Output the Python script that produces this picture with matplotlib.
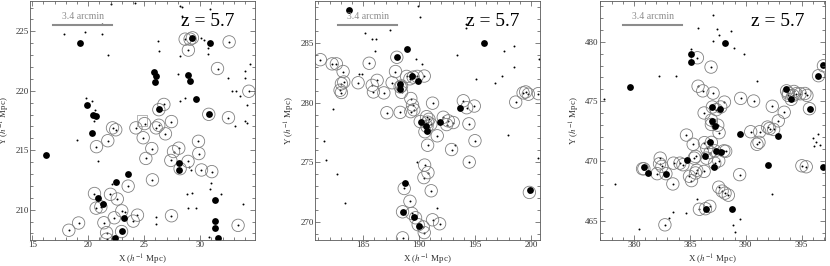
import matplotlib
matplotlib.use("Agg")
import matplotlib.pyplot as plt
from matplotlib.ticker import MultipleLocator

plt.rcParams['font.family'] = ['Liberation Serif', 'DejaVu Serif']
plt.rcParams['mathtext.fontset'] = 'stix'

# ---- panel 1 ----
p1_filled = [(16.25, 214.58), (19.26, 223.98), (19.85, 218.82), (20.39, 217.96), (20.71, 217.88),
             (20.33, 216.44), (20.86, 210.96), (21.31, 210.46), (22.5, 212.34), (23.54, 213.03),
             (23.24, 209.32), (23.04, 208.21), (22.38, 207.58), (25.86, 221.54), (26.1, 221.26),
             (25.98, 220.73), (28.9, 221.34), (29.08, 220.84), (29.67, 219.35), (26.34, 218.49),
             (29.26, 224.45), (30.92, 224.0), (30.77, 218.02), (28.15, 213.89), (28.15, 213.37),
             (31.31, 210.82), (31.34, 209.02), (31.37, 208.43), (31.55, 207.6)]
p1_rings = [(18.27, 208.27), (19.14, 208.88), (20.74, 215.3), (21.75, 215.8), (22.17, 216.88),
            (22.46, 216.72), (20.56, 211.36), (20.71, 210.13), (21.13, 210.24), (21.4, 208.9),
            (21.64, 208.07), (21.67, 207.52), (21.99, 211.29), (22.6, 210.9), (22.33, 209.32),
            (23.0, 209.9), (23.57, 211.98), (24.02, 209.04), (24.4, 209.54), (22.98, 208.16),
            (24.26, 216.88), (25.03, 217.24), (24.91, 216.05), (25.15, 214.31), (25.68, 215.14),
            (25.74, 212.51), (26.07, 216.88), (26.31, 218.41), (26.76, 218.85), (26.9, 216.38),
            (27.44, 217.41), (27.44, 209.49), (27.62, 214.89), (27.38, 214.14), (28.09, 215.17),
            (28.21, 213.45), (28.92, 214.06), (28.66, 224.34), (29.1, 224.34), (29.31, 224.45),
            (28.95, 223.42), (29.85, 215.75), (29.88, 214.72), (30.12, 213.34), (31.04, 213.2),
            (30.77, 218.02), (31.55, 221.87), (32.59, 224.11), (32.53, 217.74), (33.39, 208.68),
            (34.35, 219.96), (26.3, 217.1)]
p1_dots = [(17.83, 224.78), (19.67, 224.92), (21.25, 224.78), (21.19, 225.64), (21.76, 222.98),
           (19.79, 219.38), (20.33, 219.1), (20.65, 218.41), (20.51, 217.44), (18.96, 215.89),
           (20.86, 214.11), (22.02, 227.3), (24.14, 227.41), (28.18, 227.13), (28.42, 227.02),
           (28.36, 226.3), (30.92, 226.86), (26.22, 224.2), (26.28, 223.34), (28.21, 222.95),
           (30.09, 224.45), (30.33, 224.31), (30.68, 223.61), (30.74, 223.06), (28.01, 221.37),
           (28.63, 219.4), (28.24, 219.1), (32.53, 221.04), (32.86, 220.01), (33.18, 219.96),
           (33.6, 219.6), (34.05, 221.07), (33.99, 221.68), (34.46, 222.29), (34.2, 218.82),
           (34.02, 217.47), (33.13, 217.02), (34.2, 217.33), (28.99, 213.61), (29.14, 213.31),
           (29.23, 211.37), (28.84, 211.29), (29.61, 210.12), (28.93, 210.12), (30.95, 212.26),
           (30.86, 211.7), (31.9, 211.29), (33.81, 210.51), (26.07, 209.35), (26.1, 208.77),
           (30.77, 207.74), (23.33, 209.82), (22.11, 212.12)]

# ---- panel 2 ----
p2_filled = [(180.74, 267.8), (183.75, 287.73), (188.88, 284.5), (188.01, 283.79), (195.83, 284.97),
             (189.86, 281.77), (188.25, 281.17), (188.28, 281.53), (189.35, 282.19), (190.13, 278.38),
             (190.64, 278.02), (190.7, 277.64), (191.83, 278.38), (193.62, 279.57), (188.7, 273.28),
             (188.52, 270.86), (189.56, 270.39), (190.01, 269.64), (199.91, 272.7)]
p2_rings = [(181.18, 283.59), (182.23, 283.24), (182.61, 283.24), (183.21, 282.6), (183.06, 281.58),
            (183.27, 281.72), (183.06, 280.84), (182.94, 281.03), (184.55, 281.66), (185.54, 283.29),
            (185.81, 281.44), (185.92, 280.89), (186.25, 281.86), (186.85, 280.81), (187.12, 279.15),
            (187.59, 281.66), (188.31, 281.31), (188.31, 279.18), (187.89, 282.6), (188.01, 283.79),
            (188.43, 281.39), (188.43, 280.86), (188.88, 282.19), (189.18, 281.99), (189.47, 282.13),
            (189.83, 282.19), (190.46, 282.22), (189.26, 280.34), (189.41, 279.79), (189.26, 279.24),
            (189.53, 279.4), (190.1, 278.41), (190.67, 278.82), (190.76, 278.36), (190.7, 278.0),
            (190.52, 277.56), (191.05, 278.19), (190.88, 278.6), (191.2, 279.95), (191.62, 277.22),
            (192.16, 278.77), (192.61, 278.47), (192.46, 278.16), (193.05, 278.33), (190.76, 276.43),
            (190.49, 274.77), (190.79, 274.14), (190.43, 273.72), (191.08, 272.62), (192.9, 276.07),
            (193.95, 280.15), (194.25, 279.57), (194.93, 279.71), (194.45, 278.22), (194.99, 276.81),
            (194.48, 275.02), (188.67, 272.81), (189.18, 271.74), (188.52, 270.86), (189.35, 270.72),
            (189.68, 270.36), (189.92, 269.78), (190.37, 269.59), (190.46, 269.12), (188.52, 268.68),
            (191.2, 270.19), (191.83, 269.86), (198.63, 280.04), (199.29, 280.81), (199.52, 280.89),
            (199.76, 280.7), (200.66, 280.75), (199.85, 272.48)]
p2_dots = [(185.15, 285.83), (185.75, 285.36), (186.19, 285.3), (186.1, 284.28), (187.39, 286.05),
           (189.92, 288.06), (190.07, 287.18), (189.74, 283.65), (190.25, 283.24), (193.41, 284.01),
           (194.19, 286.54), (194.22, 286.27), (195.11, 281.99), (196.81, 281.66), (197.38, 282.19),
           (197.62, 284.34), (198.45, 284.75), (198.45, 283.01), (200.7, 283.65), (182.32, 279.43),
           (181.48, 276.76), (181.72, 275.18), (182.67, 274.05), (183.36, 271.6), (189.8, 274.99),
           (191.56, 271.16), (197.97, 277.25), (200.6, 275.38), (193.2, 276.48), (184.64, 282.41),
           (184.91, 282.41)]

# ---- panel 3 ----
p3_filled = [(379.61, 476.22), (385.09, 478.95), (385.12, 478.26), (388.18, 479.89), (380.89, 469.48),
             (381.28, 469.03), (382.83, 468.95), (384.79, 470.11), (386.34, 470.39), (386.82, 471.63),
             (386.96, 474.53), (387.68, 474.39), (386.96, 473.37), (387.26, 472.9), (387.38, 470.86),
             (387.83, 470.75), (387.14, 469.48), (389.46, 472.27), (392.02, 469.64), (392.92, 472.07),
             (393.6, 476.05), (394.05, 475.17), (395.74, 474.34), (396.43, 477.1), (396.93, 478.01),
             (396.93, 469.53), (388.78, 466.02), (386.43, 465.97)]
p3_rings = [(385.68, 478.65), (386.9, 477.87), (385.74, 476.27), (386.16, 475.88), (387.08, 475.69),
            (388.1, 474.94), (386.28, 474.03), (387.02, 474.53), (387.38, 474.31), (387.77, 474.53),
            (386.93, 473.43), (386.93, 473.07), (387.5, 473.01), (387.62, 472.38), (389.55, 475.25),
            (390.71, 475.03), (392.38, 474.59), (393.45, 474.09), (392.92, 473.37), (392.5, 472.65),
            (392.14, 472.73), (391.96, 472.85), (391.25, 472.46), (390.45, 472.46), (391.01, 471.41),
            (391.19, 471.57), (384.7, 472.18), (385.3, 471.41), (386.31, 471.55), (386.52, 471.08),
            (386.93, 471.57), (386.82, 470.72), (387.23, 470.86), (388.04, 470.86), (388.21, 470.83),
            (386.49, 470.25), (387.59, 470.03), (387.23, 469.83), (386.28, 469.14), (385.51, 470.39),
            (385.39, 470.25), (384.97, 468.73), (385.15, 468.37), (385.51, 469.01), (385.62, 469.23),
            (384.11, 469.83), (384.38, 469.7), (383.54, 469.83), (382.86, 468.95), (382.08, 468.95),
            (382.35, 470.25), (382.29, 469.78), (382.5, 469.56), (380.89, 469.36), (380.77, 469.36),
            (383.48, 468.09), (387.59, 467.82), (387.89, 467.49), (388.15, 467.32), (388.45, 467.15),
            (385.86, 465.97), (386.4, 466.02), (386.79, 466.22), (382.77, 464.67), (389.46, 468.87),
            (393.66, 475.88), (393.81, 475.69), (394.32, 475.83), (393.81, 475.5), (394.23, 475.5),
            (394.52, 475.64), (394.88, 475.64), (395.3, 475.66), (395.48, 475.5), (394.08, 475.17),
            (395.71, 474.39), (395.03, 469.61), (395.42, 469.53), (396.52, 477.15), (396.96, 477.98)]
p3_dots = [(387.08, 482.27), (385.77, 481.16), (387.47, 481.08), (387.62, 480.52), (388.72, 480.86),
           (388.96, 479.5), (389.85, 478.95), (387.11, 480.06), (385.09, 479.42), (383.72, 477.13),
           (382.2, 477.15), (377.32, 475.22), (378.3, 468.12), (380.48, 464.34), (383.51, 465.75),
           (383.15, 465.22), (384.7, 465.69), (385.65, 466.85), (389.52, 465.17), (388.84, 464.67),
           (389.08, 464.03), (392.35, 467.27), (391.01, 476.74), (396.07, 471.91), (396.46, 472.27),
           (396.31, 471.63), (396.61, 471.35), (396.16, 471.27)]

xlims = [(14.8, 34.9), (180.7, 200.8), (376.96, 397.1)]
ylims = [(207.45, 227.55), (268.5, 288.5), (463.4, 483.4)]
panels = [(p1_filled, p1_rings, p1_dots), (p2_filled, p2_rings, p2_dots), (p3_filled, p3_rings, p3_dots)]
lefts = [30 / 830, 315 / 830, 600 / 830]

fig = plt.figure(figsize=(8.3, 2.66), dpi=100)

for i, (filled, rings, dots) in enumerate(panels):
    ax = fig.add_axes([lefts[i], 26 / 266, 225 / 830, 239 / 266])
    ax.scatter([p[0] for p in dots], [p[1] for p in dots], s=2, c='k', lw=0)
    ax.scatter([p[0] for p in rings], [p[1] for p in rings], s=2, c='k', lw=0)
    ax.scatter([p[0] for p in rings], [p[1] for p in rings], s=80, facecolors='none',
               edgecolors='0.5', linewidths=0.6)
    ax.scatter([p[0] for p in filled], [p[1] for p in filled], s=24, c='k', lw=0)
    if i == 0:
        ax.scatter([24.8], [217.5], s=60, marker='s', facecolors='none', edgecolors='0.6', linewidths=0.5)

    ax.set_xlim(xlims[i])
    ax.set_ylim(ylims[i])
    ax.xaxis.set_major_locator(MultipleLocator(5))
    ax.yaxis.set_major_locator(MultipleLocator(5))
    ax.xaxis.set_minor_locator(MultipleLocator(1))
    ax.yaxis.set_minor_locator(MultipleLocator(1))
    ax.tick_params(which='both', direction='in', top=True, right=True, colors='0.3',
                   labelsize=6.5, labelcolor='0.2', width=0.5, pad=1)
    ax.tick_params(which='major', length=3.5)
    ax.tick_params(which='minor', length=2)
    for sp in ax.spines.values():
        sp.set_color('0.35')
        sp.set_linewidth(0.6)
    ax.set_xlabel(r'X ($h^{-1}$ Mpc)', fontsize=6.5, color='0.2')
    ax.set_ylabel(r'Y ($h^{-1}$ Mpc)', fontsize=6.5, color='0.2')
    ax.xaxis.set_label_coords(0.5, -0.052)
    ax.yaxis.set_label_coords(-0.078, 0.5)

    ax.plot([0.104, 0.364], [0.9, 0.9], transform=ax.transAxes, color='0.55', lw=1.5)
    ax.text(0.234, 0.915, '3.4 arcmin', transform=ax.transAxes, ha='center', va='bottom',
            fontsize=7, color='0.55')
    ax.text(0.79, 0.915, 'z = 5.7', transform=ax.transAxes, ha='center', va='center',
            fontsize=14, color='k')

plt.savefig('out.png', dpi=100)
